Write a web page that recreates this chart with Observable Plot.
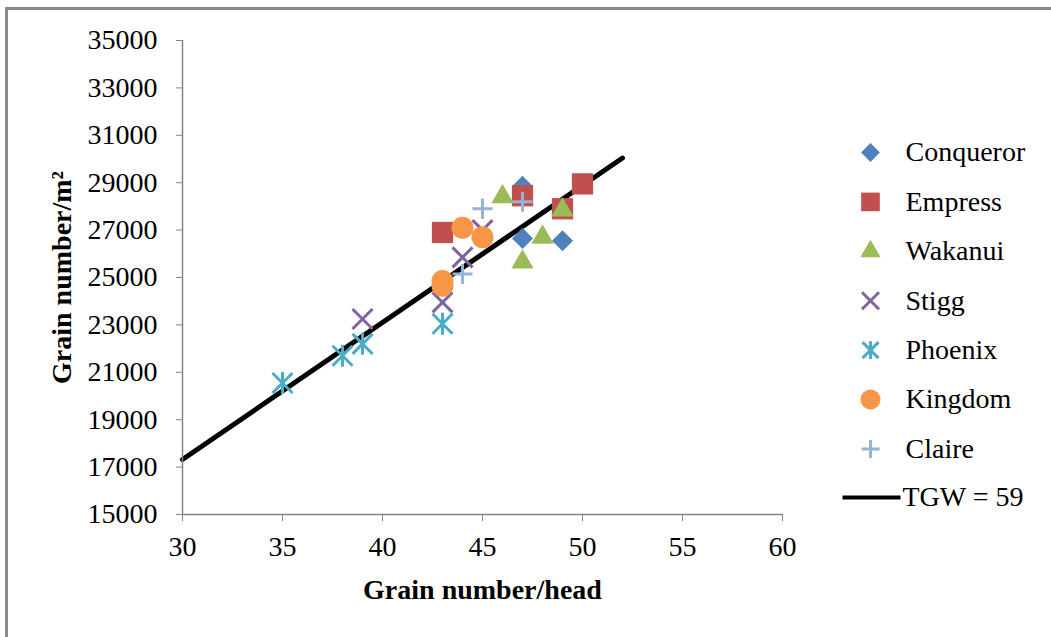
<!DOCTYPE html>
<html>
<head>
<meta charset="utf-8">
<script src="https://cdn.jsdelivr.net/npm/d3@7"></script>
<script src="https://cdn.jsdelivr.net/npm/@observablehq/plot@0.6"></script>
<style>
  html, body { margin: 0; padding: 0; background: #fff; overflow: hidden; }
  #wrap { position: relative; width: 1051px; height: 637px; }
  #border { position: absolute; left: 5px; top: 7px; width: 1200px; height: 800px;
            border-top: 3px solid #8a8a8a; border-left: 3px solid #8a8a8a; pointer-events: none; }
</style>
</head>
<body>
<div id="wrap"><div id="chart"></div><div id="border"></div></div>
<script>
// Series data (Grain number/head, Grain number/m2)
const conquerorX = [47, 47, 49];
const conquerorY = [28850, 26650, 26550];
const empressX = [43, 47, 49, 50];
const empressY = [26900, 28450, 27900, 28950];
const wakanuiX = [46, 47, 48, 49];
const wakanuiY = [28400, 25650, 26700, 27850];
const stiggX = [39, 43, 44, 45];
const stiggY = [23250, 23950, 25850, 27000];
const phoenixX = [35, 38, 39, 43];
const phoenixY = [20550, 21700, 22200, 23050];
const kingdomX = [43, 43, 44, 45];
const kingdomY = [24650, 24850, 27100, 26700];
const claireX = [44, 45, 47];
const claireY = [25150, 27900, 28200];
// TGW = 59 reference line
const tgwX = [30, 52];
const tgwY = [17320, 30040];

const xTicks = [30, 35, 40, 45, 50, 55, 60];
const yTicks = [15000, 17000, 19000, 21000, 23000, 25000, 27000, 29000, 31000, 33000, 35000];
const seriesNames = ["Conqueror", "Empress", "Wakanui", "Stigg", "Phoenix", "Kingdom", "Claire"];
const lineName = "TGW = 59";

// Excel-style star: an X plus a vertical bar
const starSymbol = {
  draw(ctx, size) {
    const r = Math.sqrt(size / Math.PI);
    ctx.moveTo(-r, -r); ctx.lineTo(r, r);
    ctx.moveTo(-r, r); ctx.lineTo(r, -r);
    ctx.moveTo(0, -r * 1.1); ctx.lineTo(0, r * 1.1);
  }
};
const xSymbol = {
  draw(ctx, size) {
    const r = Math.sqrt(size / Math.PI);
    ctx.moveTo(-r, -r); ctx.lineTo(r, r);
    ctx.moveTo(-r, r); ctx.lineTo(r, -r);
  }
};
const plusSymbol = {
  draw(ctx, size) {
    const r = Math.sqrt(size / Math.PI);
    ctx.moveTo(-r, 0); ctx.lineTo(r, 0);
    ctx.moveTo(0, -r); ctx.lineTo(0, r);
  }
};
const lineSymbol = { draw(ctx) { ctx.moveTo(-29, 0); ctx.lineTo(29, 0); } };

const series = [
  {name: "Conqueror", xs: conquerorX, ys: conquerorY, symbol: "diamond2", color: "#4F81BD", filled: true, r: 9.5, lr: 8.5},
  {name: "Empress", xs: empressX, ys: empressY, symbol: "square", color: "#C0504D", filled: true, r: 12, lr: 10.5},
  {name: "Wakanui", xs: wakanuiX, ys: wakanuiY, symbol: "triangle", color: "#9BBB59", filled: true, r: 8.3, lr: 7.5},
  {name: "Stigg", xs: stiggX, ys: stiggY, symbol: xSymbol, color: "#8064A2", filled: false, r: 10, lr: 8.5, sw: 3},
  {name: "Phoenix", xs: phoenixX, ys: phoenixY, symbol: starSymbol, color: "#4BACC6", filled: false, r: 10, lr: 8, sw: 3},
  {name: "Kingdom", xs: kingdomX, ys: kingdomY, symbol: "circle", color: "#F79646", filled: true, r: 11, lr: 10},
  {name: "Claire", xs: claireX, ys: claireY, symbol: plusSymbol, color: "#95B3D7", filled: false, r: 10, lr: 9, sw: 3}
];

const rows = s => s.xs.map((x, i) => ({x, y: s.ys[i]}));
const tgw = tgwX.map((x, i) => ({x, y: tgwY[i]}));

const marks = [
  Plot.line(tgw, {x: "x", y: "y", stroke: "black", strokeWidth: 5}),
  ...series.map(s => Plot.dot(rows(s), {
    x: "x", y: "y", symbol: s.symbol, r: s.r,
    fill: s.filled ? s.color : "none",
    stroke: s.filled ? "none" : s.color,
    strokeWidth: s.sw || 1
  })),
  Plot.ruleX([30], {stroke: "#868686", strokeWidth: 1.5}),
  Plot.ruleY([15000], {stroke: "#868686", strokeWidth: 1.5}),
  Plot.axisY({ticks: yTicks, tickSize: 6, tickPadding: 19, tickFormat: d => String(d), stroke: "#868686", label: null}),
  Plot.axisX({ticks: xTicks, tickSize: 7, tickPadding: 15, tickFormat: d => String(d), stroke: "#868686", label: null}),
  Plot.text(["Grain number/head"], {text: d => d, frameAnchor: "bottom", dy: 76, lineAnchor: "middle", textAnchor: "middle", fontWeight: "bold", fontSize: 28}),
  Plot.text(["Grain number/m²"], {text: d => d, frameAnchor: "left", dx: -120, rotate: -90, lineAnchor: "middle", textAnchor: "middle", fontWeight: "bold", fontSize: 28}),
  // legend
  ...series.map((s, i) => Plot.dot([s.name], {
    frameAnchor: "top-right", dx: 88, dy: 112 + 49.4 * i,
    symbol: s.symbol, r: s.lr,
    fill: s.filled ? s.color : "none",
    stroke: s.filled ? "none" : s.color,
    strokeWidth: s.sw || 1
  })),
  ...seriesNames.map((n, i) => Plot.text([n], {
    text: d => d, frameAnchor: "top-right", dx: 123, dy: 112 + 49.4 * i,
    textAnchor: "start", lineAnchor: "middle", fontSize: 28
  })),
  Plot.dot([lineName], {frameAnchor: "top-right", dx: 89, dy: 457, symbol: lineSymbol, stroke: "black", strokeWidth: 4, fill: "none"}),
  Plot.text([lineName], {text: d => d, frameAnchor: "top-right", dx: 120, dy: 457, textAnchor: "start", lineAnchor: "middle", fontSize: 28})
];

const chart = Plot.plot({
  width: 1051,
  height: 637,
  marginLeft: 182,
  marginRight: 269,
  marginTop: 40,
  marginBottom: 123,
  x: {domain: [30, 60]},
  y: {domain: [15000, 35000]},
  style: {fontFamily: "'Liberation Serif', 'Times New Roman', serif", fontSize: "28px", background: "#fff", color: "black", overflow: "visible"},
  marks
});
document.getElementById("chart").appendChild(chart);
</script>
</body>
</html>
